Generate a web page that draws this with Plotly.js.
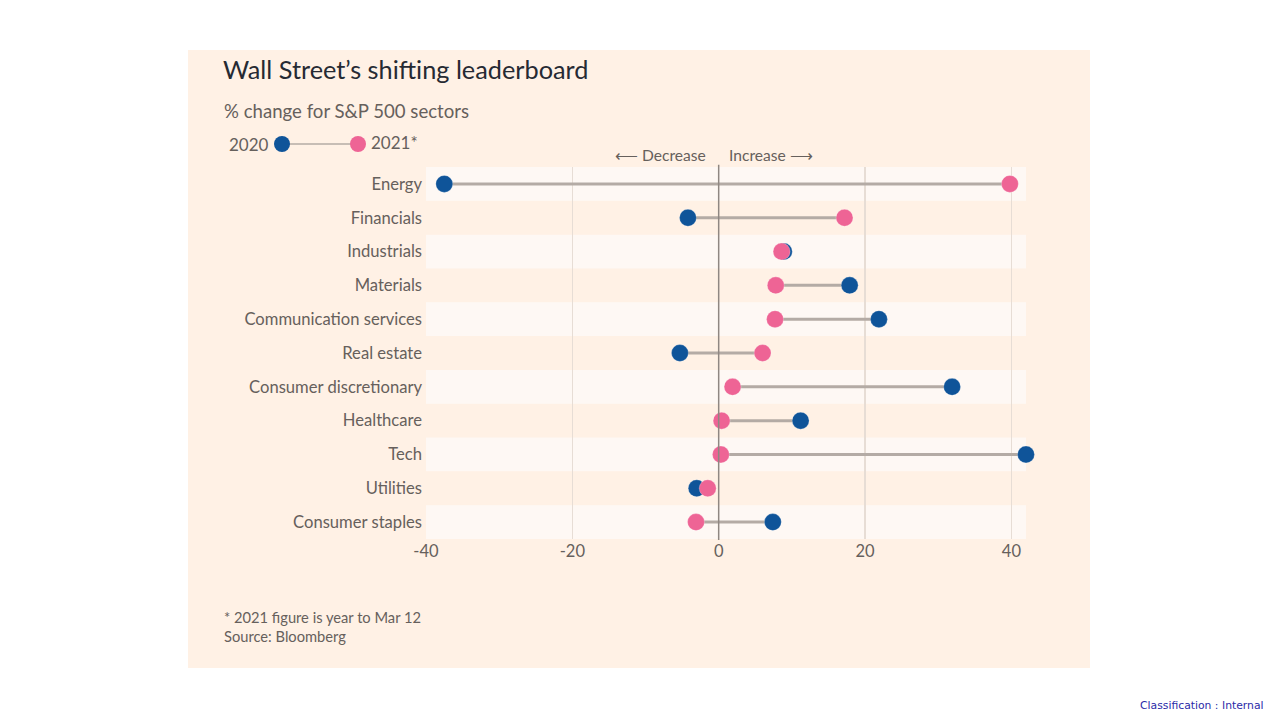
<!DOCTYPE html>
<html>
<head>
<meta charset="utf-8">
<script src="https://cdn.plot.ly/plotly-3.0.1.min.js"></script>
<style>
  html, body { margin:0; padding:0; background:#ffffff; width:1280px; height:720px; overflow:hidden; }
  #chart { position:absolute; left:188px; top:50px; width:902px; height:618px; }
  #cls { position:absolute; left:1140px; top:699px; font-family:"DejaVu Sans", sans-serif; font-size:10.8px; color:#2b2ba8; white-space:nowrap; }
</style>
</head>
<body>
<div id="chart"></div>
<div id="cls">Classification : Internal</div>
<script>
// ---- data ----
const sectors = ["Energy","Financials","Industrials","Materials","Communication services","Real estate",
  "Consumer discretionary","Healthcare","Tech","Utilities","Consumer staples"];
const y2020 = [-37.5, -4.2, 8.9, 17.9, 21.9, -5.3, 31.9, 11.2, 42.0, -3.0, 7.4];
const y2021 = [39.8, 17.2, 8.6, 7.8, 7.7, 6.0, 1.9, 0.4, 0.3, -1.5, -3.1];
const xTicks = [-40, -20, 0, 20, 40];

// ---- style ----
const BG = "#fff1e5", BAND = "#fef8f4", BLUE = "#0f5499", PINK = "#ee6495";
const GREY_TXT = "#66605c", FONT = "Lato, 'Open Sans', sans-serif";

// connectors
const lx = [], ly = [];
sectors.forEach((s, i) => { lx.push(y2020[i], y2021[i], null); ly.push(s, s, null); });

const traces = [
  { type:"scatter", mode:"lines", x:lx, y:ly, line:{color:"#b4aba5", width:3}, hoverinfo:"skip", showlegend:false, cliponaxis:false },
  { type:"scatter", mode:"markers", name:"2020", x:y2020, y:sectors, cliponaxis:false,
    marker:{color:BLUE, size:17, line:{color:"rgba(255,255,255,0.5)", width:0.5}}, showlegend:false },
  { type:"scatter", mode:"markers", name:"2021*", x:y2021, y:sectors, cliponaxis:false,
    marker:{color:PINK, size:17, line:{color:"rgba(255,255,255,0.5)", width:0.5}}, showlegend:false }
];

// plot area geometry inside the 902x618 panel
const L = 238, PW = 600, T = 117, PH = 372;
const px = v => (v - L) / PW;              // local pixel x -> paper
const py = v => (T + PH - v) / PH;         // local pixel y -> paper

const shapes = [];
// alternating row bands
sectors.forEach((s, i) => {
  if (i % 2 === 0) shapes.push({ type:"rect", layer:"below", xref:"x", yref:"y",
    x0:-40, x1:42, y0:i-0.5, y1:i+0.5, fillcolor:BAND, line:{width:0} });
});
// zero line
shapes.push({ type:"line", xref:"x", yref:"paper", x0:0, x1:0, y0:-0.003, y1:1.006, line:{color:"#8f8782", width:1.5} });
// legend key
const legY = py(94);
shapes.push({ type:"line", xref:"paper", yref:"paper", x0:px(94), x1:px(170), y0:legY, y1:legY, line:{color:"#b4aba5", width:1.5} });
shapes.push({ type:"circle", xref:"paper", yref:"paper", xsizemode:"pixel", ysizemode:"pixel",
  xanchor:px(94), yanchor:legY, x0:-8, x1:8, y0:-8, y1:8, fillcolor:BLUE, line:{width:0} });
shapes.push({ type:"circle", xref:"paper", yref:"paper", xsizemode:"pixel", ysizemode:"pixel",
  xanchor:px(170), yanchor:legY, x0:-8, x1:8, y0:-8, y1:8, fillcolor:PINK, line:{width:0} });

const annotations = [
  { text:"% change for S&P 500 sectors", xref:"paper", yref:"paper", x:px(34), y:py(61), xanchor:"left", yanchor:"middle",
    showarrow:false, font:{family:FONT, size:18.6, color:GREY_TXT} },
  { text:"2020", xref:"paper", yref:"paper", x:px(83), y:legY, xanchor:"right", yanchor:"middle",
    showarrow:false, font:{family:FONT, size:17, color:GREY_TXT} },
  { text:"2021*", xref:"paper", yref:"paper", x:px(181), y:legY+0.003, xanchor:"left", yanchor:"middle",
    showarrow:false, font:{family:FONT, size:17, color:GREY_TXT} },
  { text:"\u27F5 Decrease", xref:"paper", yref:"paper", x:px(520), y:py(105), xanchor:"right", yanchor:"middle",
    showarrow:false, font:{family:FONT, size:15.6, color:GREY_TXT} },
  { text:"Increase \u27F6", xref:"paper", yref:"paper", x:px(539), y:py(105), xanchor:"left", yanchor:"middle",
    showarrow:false, font:{family:FONT, size:15.6, color:GREY_TXT} },
  { text:"* 2021 figure is year to Mar 12", xref:"paper", yref:"paper", x:px(34), y:py(567), xanchor:"left", yanchor:"middle",
    showarrow:false, font:{family:FONT, size:14.7, color:GREY_TXT} },
  { text:"Source: Bloomberg", xref:"paper", yref:"paper", x:px(34), y:py(586), xanchor:"left", yanchor:"middle",
    showarrow:false, font:{family:FONT, size:14.7, color:GREY_TXT} }
];

const layout = {
  width:902, height:618,
  margin:{l:L, r:902-L-PW, t:T, b:618-T-PH},
  paper_bgcolor:BG, plot_bgcolor:BG,
  title:{ text:"Wall Street\u2019s shifting leaderboard", xref:"container", yref:"container",
    x:35/902, xanchor:"left", y:1-20/618, yanchor:"middle",
    font:{family:FONT, size:25.3, color:"#262a33"} },
  xaxis:{ range:[-40, 42], tickvals:xTicks, ticktext:xTicks.map(String), showgrid:true, gridcolor:"#e7ddd5", gridwidth:1.2,
    zeroline:false, showline:false, ticks:"", tickfont:{family:FONT, size:16.5, color:GREY_TXT}, fixedrange:true, automargin:false },
  yaxis:{ type:"category", categoryorder:"array", categoryarray:sectors, range:[10.5, -0.5], autorange:false,
    showgrid:false, zeroline:false, showline:false, ticks:"", ticklabelstandoff:3, tickfont:{family:FONT, size:16.6, color:GREY_TXT},
    fixedrange:true, automargin:false },
  shapes, annotations, showlegend:false, hovermode:false
};

Plotly.newPlot("chart", traces, layout, {displayModeBar:false, staticPlot:true});
</script>
</body>
</html>
